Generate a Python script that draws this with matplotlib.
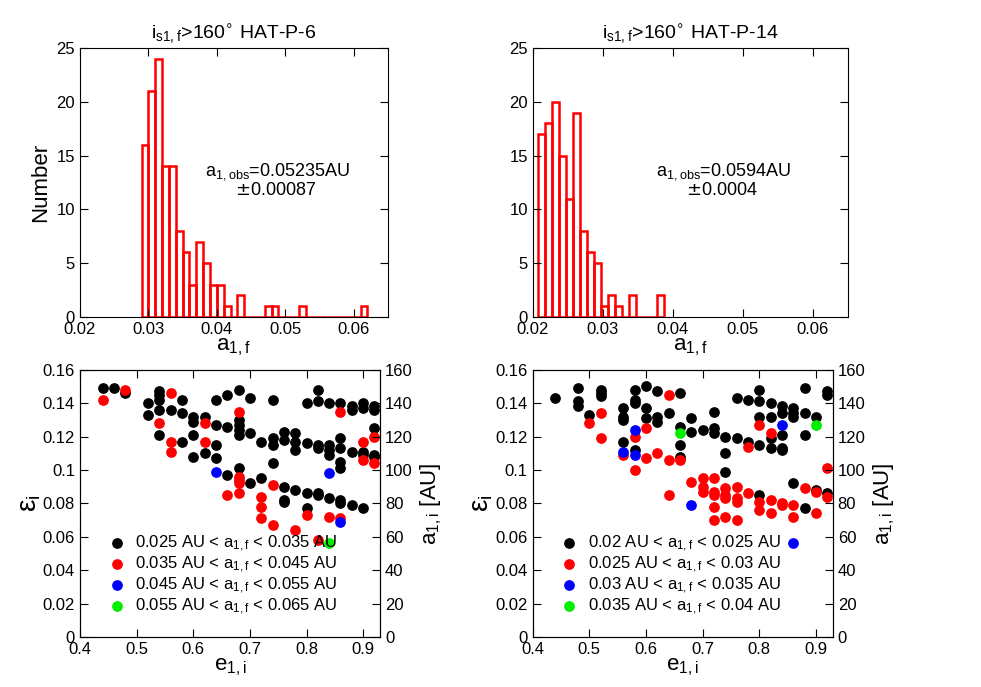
import numpy as np
import matplotlib.pyplot as plt

# histogram data (bin width 0.001)
bins_l = np.round(np.arange(0.029, 0.062, 0.001), 4)
cnt_l = [16, 21, 24, 14, 14, 8, 6, 3, 7, 5, 3, 3, 1, 0, 2, 0, 0, 0, 1, 1, 0, 0, 0, 1,
         0, 0, 0, 0, 0, 0, 0, 0, 1]
bins_r = np.round(np.arange(0.0207, 0.0387, 0.001), 4)
cnt_r = [17, 18, 20, 15, 11, 19, 8, 6, 5, 1, 2, 1, 0, 2, 0, 0, 0, 2]

# scatter data: (e_1i, eps_i)
left_black = [
    (0.44, 0.149), (0.46, 0.149), (0.48, 0.146), (0.52, 0.140), (0.52, 0.133),
    (0.54, 0.147), (0.54, 0.145), (0.54, 0.142), (0.54, 0.136), (0.54, 0.121),
    (0.56, 0.136), (0.58, 0.142), (0.58, 0.134), (0.58, 0.117),
    (0.60, 0.132), (0.60, 0.129), (0.60, 0.121), (0.60, 0.108),
    (0.62, 0.132), (0.62, 0.110), (0.64, 0.142), (0.64, 0.127), (0.64, 0.115), (0.64, 0.107),
    (0.66, 0.145), (0.66, 0.126), (0.66, 0.097),
    (0.68, 0.148), (0.68, 0.130), (0.68, 0.127), (0.68, 0.124), (0.68, 0.121), (0.68, 0.101),
    (0.70, 0.143), (0.70, 0.122), (0.70, 0.092), (0.72, 0.117), (0.72, 0.095),
    (0.74, 0.142), (0.74, 0.119), (0.74, 0.115), (0.74, 0.104),
    (0.76, 0.123), (0.76, 0.118), (0.76, 0.090), (0.76, 0.082), (0.76, 0.081),
    (0.78, 0.122), (0.78, 0.117), (0.78, 0.112), (0.78, 0.088),
    (0.80, 0.140), (0.80, 0.116), (0.80, 0.086), (0.80, 0.077),
    (0.82, 0.148), (0.82, 0.141), (0.82, 0.115), (0.82, 0.113), (0.82, 0.086), (0.82, 0.085),
    (0.84, 0.140), (0.84, 0.115), (0.84, 0.112), (0.84, 0.109), (0.84, 0.083),
    (0.86, 0.140), (0.86, 0.119), (0.86, 0.113), (0.86, 0.105), (0.86, 0.101), (0.86, 0.082), (0.86, 0.080),
    (0.88, 0.138), (0.88, 0.136), (0.88, 0.111), (0.88, 0.079),
    (0.90, 0.140), (0.90, 0.137), (0.90, 0.111), (0.90, 0.109), (0.90, 0.077),
    (0.92, 0.138), (0.92, 0.136), (0.92, 0.125), (0.92, 0.109), (0.92, 0.108)]
left_red = [
    (0.44, 0.142), (0.48, 0.148), (0.56, 0.146), (0.54, 0.128), (0.56, 0.117), (0.56, 0.111),
    (0.62, 0.128), (0.62, 0.117), (0.68, 0.135), (0.68, 0.096), (0.68, 0.094), (0.68, 0.092),
    (0.66, 0.085), (0.68, 0.086), (0.72, 0.084), (0.72, 0.078), (0.72, 0.071),
    (0.74, 0.091), (0.74, 0.067), (0.78, 0.064), (0.80, 0.073), (0.82, 0.058),
    (0.84, 0.072), (0.86, 0.071), (0.86, 0.135), (0.90, 0.117), (0.90, 0.106),
    (0.92, 0.120), (0.92, 0.104)]
left_blue = [(0.64, 0.099), (0.84, 0.098), (0.86, 0.069)]
left_green = [(0.84, 0.056)]

right_black = [
    (0.44, 0.143), (0.48, 0.149), (0.48, 0.141), (0.48, 0.138), (0.50, 0.133),
    (0.52, 0.148), (0.52, 0.146), (0.52, 0.144),
    (0.56, 0.137), (0.56, 0.132), (0.56, 0.130), (0.56, 0.117),
    (0.58, 0.148), (0.58, 0.142), (0.58, 0.140), (0.58, 0.112),
    (0.60, 0.150), (0.60, 0.137), (0.60, 0.131), (0.62, 0.147), (0.62, 0.132), (0.62, 0.129),
    (0.64, 0.134), (0.66, 0.146), (0.66, 0.126), (0.66, 0.115), (0.66, 0.108),
    (0.68, 0.131), (0.68, 0.123), (0.70, 0.124), (0.72, 0.135), (0.72, 0.125), (0.72, 0.122),
    (0.74, 0.120), (0.74, 0.110), (0.74, 0.099), (0.76, 0.143), (0.76, 0.119),
    (0.78, 0.142), (0.78, 0.117),
    (0.80, 0.148), (0.80, 0.141), (0.80, 0.132), (0.80, 0.115), (0.80, 0.085),
    (0.82, 0.140), (0.82, 0.132), (0.82, 0.119), (0.82, 0.113),
    (0.84, 0.138), (0.84, 0.134), (0.84, 0.121), (0.84, 0.113), (0.84, 0.112),
    (0.86, 0.137), (0.86, 0.134), (0.86, 0.132), (0.86, 0.092),
    (0.88, 0.149), (0.88, 0.134), (0.88, 0.121), (0.88, 0.077),
    (0.90, 0.132), (0.90, 0.088), (0.92, 0.147), (0.92, 0.145), (0.92, 0.086)]
right_red = [
    (0.50, 0.128), (0.52, 0.134), (0.52, 0.119), (0.56, 0.109), (0.58, 0.120), (0.58, 0.100),
    (0.60, 0.125), (0.60, 0.107), (0.62, 0.110), (0.64, 0.145), (0.64, 0.106), (0.64, 0.085),
    (0.66, 0.106), (0.68, 0.093), (0.70, 0.095), (0.70, 0.090), (0.70, 0.087),
    (0.72, 0.095), (0.72, 0.087), (0.72, 0.085), (0.72, 0.078), (0.72, 0.070),
    (0.74, 0.089), (0.74, 0.085), (0.74, 0.083), (0.74, 0.072),
    (0.76, 0.090), (0.76, 0.083), (0.76, 0.081), (0.76, 0.070),
    (0.78, 0.114), (0.78, 0.086), (0.80, 0.127), (0.80, 0.081), (0.80, 0.076),
    (0.82, 0.082), (0.82, 0.074), (0.82, 0.122), (0.84, 0.080), (0.84, 0.079),
    (0.86, 0.079), (0.86, 0.072), (0.88, 0.089), (0.90, 0.087), (0.90, 0.074),
    (0.92, 0.101), (0.92, 0.084)]
right_blue = [(0.58, 0.124), (0.56, 0.111), (0.58, 0.109), (0.68, 0.079), (0.84, 0.127), (0.86, 0.056)]
right_green = [(0.66, 0.122), (0.90, 0.127)]

titles = [r"$\mathregular{i_{s1,f}}$>160$^{\circ}$ HAT-P-6",
          r"$\mathregular{i_{s1,f}}$>160$^{\circ}$ HAT-P-14"]
obs_text = [r"$\mathregular{a_{1,obs}}$=0.05235AU" + "\n" + r"      $\pm$0.00087",
            r"$\mathregular{a_{1,obs}}$=0.0594AU" + "\n" + r"      $\pm$0.0004"]
labels_l = ["0.025 AU < $\\mathregular{a_{1,f}}$ < 0.035 AU", "0.035 AU < $\\mathregular{a_{1,f}}$ < 0.045 AU",
            "0.045 AU < $\\mathregular{a_{1,f}}$ < 0.055 AU", "0.055 AU < $\\mathregular{a_{1,f}}$ < 0.065 AU"]
labels_r = ["0.02 AU < $\\mathregular{a_{1,f}}$ < 0.025 AU", "0.025 AU < $\\mathregular{a_{1,f}}$ < 0.03 AU",
            "0.03 AU < $\\mathregular{a_{1,f}}$ < 0.035 AU", "0.035 AU < $\\mathregular{a_{1,f}}$ < 0.04 AU"]
colors = ["black", "red", "blue", "#00ee00"]

plt.rcParams['font.family'] = ['Liberation Sans', 'DejaVu Sans']
fig = plt.figure(figsize=(9.81, 6.87), dpi=100)

hist_axes = [fig.add_axes([0.0815, 0.5386, 0.314, 0.3916]),
             fig.add_axes([0.543, 0.5386, 0.321, 0.3916])]
for ax, b, c, t, o, tx in zip(hist_axes, [bins_l, bins_r], [cnt_l, cnt_r], titles, obs_text, [0.0383, 0.0376]):
    ax.bar(b, c, width=0.001, align="edge", fill=False, edgecolor="red", linewidth=1.8)
    ax.set_xlim(0.02, 0.065)
    ax.set_ylim(0, 25)
    ax.set_xticks([0.02, 0.03, 0.04, 0.05, 0.06])
    ax.set_xticklabels(["0.02", "0.03", "0.04", "0.05", "0.06"])
    ax.set_yticks([0, 5, 10, 15, 20, 25])
    ax.tick_params(direction="in", top=True, right=True, labelsize=12, length=6)
    ax.set_xlabel(r"$\mathregular{a_{1,f}}$", fontsize=16, labelpad=0)
    ax.set_title(t, fontsize=14)
    ax.text(tx, 11.3, o, fontsize=13, linespacing=1.0)
hist_axes[0].set_ylabel("Number", fontsize=16)

sc_axes = [fig.add_axes([0.0815, 0.0728, 0.306, 0.389]),
           fig.add_axes([0.543, 0.0728, 0.306, 0.389])]
groups = [[left_black, left_red, left_blue, left_green],
          [right_black, right_red, right_blue, right_green]]
for ax, grp, labs in zip(sc_axes, groups, [labels_l, labels_r]):
    for pts, col, lab in zip(grp, colors, labs):
        e, eps = zip(*pts)
        ax.scatter(e, eps, s=45, color=col, label=lab, zorder=3)
    ax.set_xlim(0.4, 0.93)
    ax.set_ylim(0, 0.16)
    ax.set_xticks([0.4, 0.5, 0.6, 0.7, 0.8, 0.9])
    ax.set_xticklabels(["0.4", "0.5", "0.6", "0.7", "0.8", "0.9"])
    ax.set_yticks(np.arange(0, 0.161, 0.02))
    ax.set_yticklabels(["0", "0.02", "0.04", "0.06", "0.08", "0.1", "0.12", "0.14", "0.16"])
    ax.tick_params(direction="in", top=True, labelsize=12, length=6)
    ax.set_xlabel(r"$\mathregular{e_{1,i}}$", fontsize=16, labelpad=0)
    ax.set_ylabel(r"$\mathregular{\varepsilon_i}$", fontsize=20, labelpad=0)
    ax.legend(loc="lower left", frameon=False, fontsize=12, handletextpad=0.1,
              labelspacing=0.05, borderaxespad=1.0, borderpad=0.2)
    ax2 = ax.twinx()
    ax2.set_ylim(0, 160)
    ax2.set_yticks(np.arange(0, 161, 20))
    ax2.tick_params(direction="in", labelsize=12, length=6)
    ax2.set_ylabel(r"$\mathregular{a_{1,i}}$ [AU]", fontsize=16)

fig.savefig("out.png", dpi=100)
